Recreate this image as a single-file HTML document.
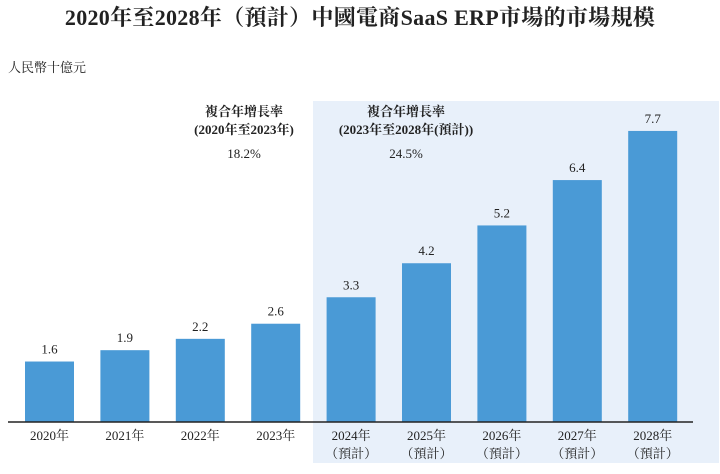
<!DOCTYPE html>
<html><head><meta charset="utf-8"><style>
body{margin:0;background:#fff;}
svg text{font-family:"Liberation Serif","Noto Serif CJK SC","Noto Sans CJK TC",serif;fill:#222;}
</style></head><body>
<svg width="720" height="469" viewBox="0 0 720 469">
<rect x="313" y="101" width="406" height="362" fill="#e8f0fa"/>
<text x="360" y="25" text-anchor="middle" font-size="22" font-weight="bold" letter-spacing="0.3">2020年至2028年（預計）中國電商SaaS ERP市場的市場規模</text>
<text x="8" y="72" font-size="13">人民幣十億元</text>
<g>
<text x="244" y="116" text-anchor="middle" font-size="13" font-weight="bold">複合年增長率</text>
<text x="244" y="134" text-anchor="middle" font-size="13" font-weight="bold">(2020年至2023年)</text>
<text x="244" y="158" text-anchor="middle" font-size="13">18.2%</text>
</g>
<g>
<text x="406" y="116" text-anchor="middle" font-size="13" font-weight="bold">複合年增長率</text>
<text x="406" y="134" text-anchor="middle" font-size="13" font-weight="bold">(2023年至2028年(預計))</text>
<text x="406" y="158" text-anchor="middle" font-size="13">24.5%</text>
</g>
<g id="bars"></g>
<line x1="8" y1="422" x2="693" y2="422" stroke="#222" stroke-width="1.5"/>
</svg>
<script>
const categories=["2020年","2021年","2022年","2023年","2024年","2025年","2026年","2027年","2028年"];
const values=[1.6,1.9,2.2,2.6,3.3,4.2,5.2,6.4,7.7];
const valueLabels=["1.6","1.9","2.2","2.6","3.3","4.2","5.2","6.4","7.7"];
const forecast=[false,false,false,false,true,true,true,true,true];
const NS="http://www.w3.org/2000/svg";
const g=document.getElementById('bars');
const x=i=>49.5+i*75.4;
const y=v=>422-v*37.8;
function mk(t,a){const e=document.createElementNS(NS,t);for(const k in a)e.setAttribute(k,a[k]);g.appendChild(e);return e;}
categories.forEach((c,i)=>{
 const r=mk('rect',{x:x(i)-24.5,y:y(values[i]),width:49,height:422-y(values[i]),fill:'#4a9ad6'});
 
 
 const vl=mk('text',{x:x(i),y:y(values[i])-8,'text-anchor':'middle','font-size':13});
 vl.textContent=valueLabels[i];
 
 
 const cl=mk('text',{x:x(i),y:440,'text-anchor':'middle','font-size':13});
 cl.textContent=c;
 
 
 if(forecast[i]){
  const fl=mk('text',{x:x(i),y:458,'text-anchor':'middle','font-size':13});
  fl.textContent='（預計）';
  
  
 }
});
</script>
</body></html>
